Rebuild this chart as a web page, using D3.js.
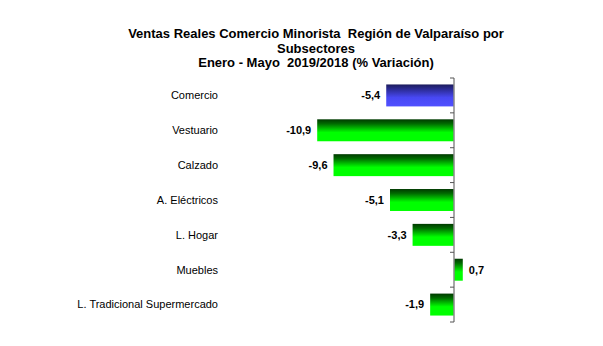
<!DOCTYPE html>
<html>
<head>
<meta charset="utf-8">
<script src="https://cdn.jsdelivr.net/npm/d3@7/dist/d3.min.js"></script>
<style>
  html, body { margin: 0; padding: 0; background: #fff; }
  svg { display: block; font-family: "Liberation Sans", Arial, sans-serif; }
  .title { white-space: pre; }
</style>
</head>
<body>
<svg id="chart" width="603" height="346"></svg>
<script>
// Retail sales by subsector, Valparaíso region, Jan–May 2019/2018 (% change)
const categories = [
  "Comercio",
  "Vestuario",
  "Calzado",
  "A. Eléctricos",
  "L. Hogar",
  "Muebles",
  "L. Tradicional Supermercado"
];
const values = [-5.4, -10.9, -9.6, -5.1, -3.3, 0.7, -1.9];
const valueLabels = ["-5,4", "-10,9", "-9,6", "-5,1", "-3,3", "0,7", "-1,9"];
const titleLines = [
  "Ventas Reales Comercio Minorista  Región de Valparaíso por",
  "Subsectores",
  "Enero - Mayo  2019/2018 (% Variación)"
];

const svg = d3.select("#chart");

const zeroX = 454;
const unit = 12.55;
const x = d3.scaleLinear()
  .domain([-12, 1])
  .range([zeroX - 12 * unit, zeroX + unit]);

const y = d3.scaleBand()
  .domain(categories)
  .range([78, 322])
  .paddingInner(0.37)
  .paddingOuter(0.185);

// Vertical gradients: dark at the top, bright at the bottom
const defs = svg.append("defs");
function gradient(id, stops) {
  const g = defs.append("linearGradient")
    .attr("id", id)
    .attr("x1", 0).attr("y1", 0).attr("x2", 0).attr("y2", 1);
  stops.forEach(([o, c]) => g.append("stop").attr("offset", o).attr("stop-color", c));
}
gradient("gradGreen", [[0, "#003a00"], [0.2, "#006a00"], [0.6, "#00ff00"], [1, "#00ff00"]]);
gradient("gradBlue", [[0, "#1c1c5c"], [0.2, "#2a2a90"], [0.6, "#4848f4"], [1, "#5050ff"]]);

// Title
const title = svg.append("text")
  .attr("class", "title")
  .attr("text-anchor", "middle")
  .attr("font-weight", "bold")
  .attr("font-size", 13)
  .attr("fill", "#000");
titleLines.forEach((t, i) => {
  title.append("tspan")
    .attr("x", 316)
    .attr("y", 38 + i * 14.5)
    .text(t);
});

// Bars
svg.append("g")
  .selectAll("rect")
  .data(values)
  .join("rect")
  .attr("x", d => x(Math.min(0, d)))
  .attr("y", (d, i) => y(categories[i]))
  .attr("width", d => Math.abs(x(d) - x(0)))
  .attr("height", y.bandwidth())
  .attr("fill", (d, i) => i === 0 ? "url(#gradBlue)" : "url(#gradGreen)");

// Value labels
svg.append("g")
  .selectAll("text")
  .data(values)
  .join("text")
  .attr("x", d => d < 0 ? x(d) - 6 : x(d) + 6)
  .attr("y", (d, i) => y(categories[i]) + y.bandwidth() / 2)
  .attr("dy", "0.35em")
  .attr("text-anchor", d => d < 0 ? "end" : "start")
  .attr("font-weight", "bold")
  .attr("font-size", 11)
  .attr("fill", "#000")
  .text((d, i) => valueLabels[i]);

// Category labels
svg.append("g")
  .selectAll("text")
  .data(categories)
  .join("text")
  .attr("x", 218)
  .attr("y", d => y(d) + y.bandwidth() / 2)
  .attr("dy", "0.35em")
  .attr("text-anchor", "end")
  .attr("font-size", 11)
  .attr("fill", "#000")
  .text(d => d);

// Category axis at zero, with ticks between the categories
const step = y.step();
const boundaries = d3.range(categories.length + 1).map(i => y.range()[0] + i * step);
const axis = svg.append("g");
axis.append("line")
  .attr("x1", x(0)).attr("x2", x(0))
  .attr("y1", y.range()[0]).attr("y2", y.range()[1])
  .attr("stroke", "#8a8a8a")
  .attr("stroke-width", 1.5);
axis.selectAll(".tick")
  .data(boundaries)
  .join("line")
  .attr("class", "tick")
  .attr("x1", x(0) - 4).attr("x2", x(0))
  .attr("y1", d => d).attr("y2", d => d)
  .attr("stroke", "#555")
  .attr("stroke-width", 1);
</script>
</body>
</html>
